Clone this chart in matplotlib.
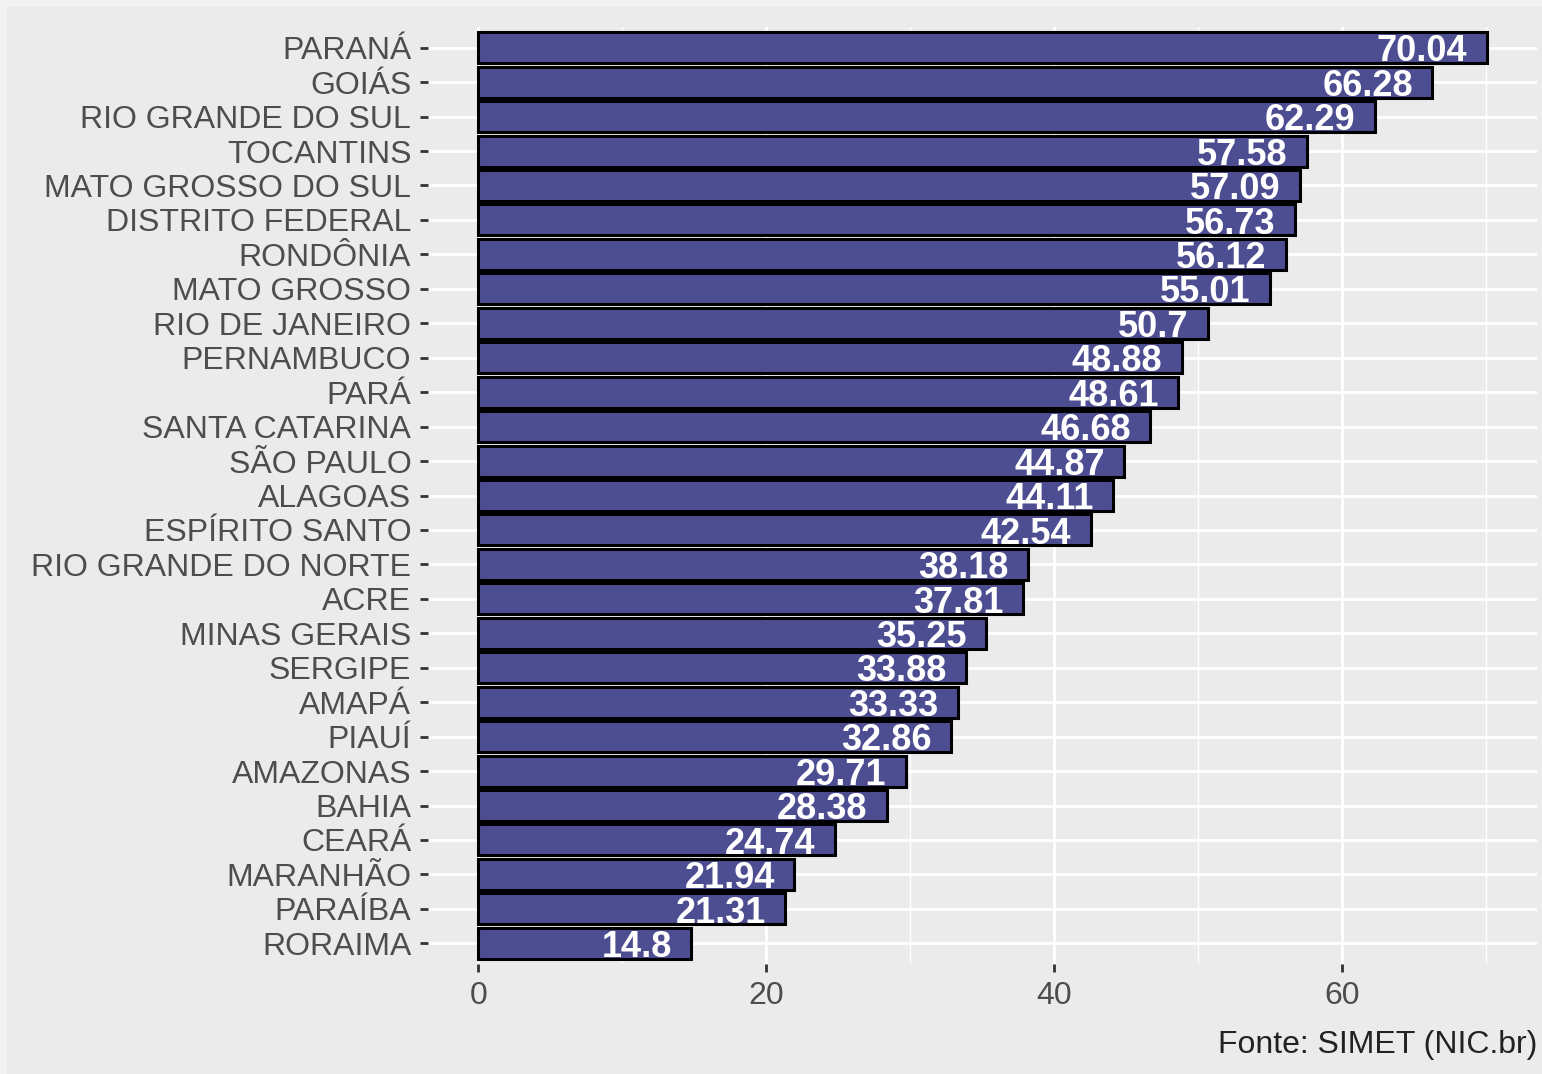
import matplotlib.pyplot as plt
from matplotlib.patches import Rectangle

# Data (top to bottom as shown)
estados = ["PARANÁ", "GOIÁS", "RIO GRANDE DO SUL", "TOCANTINS",
           "MATO GROSSO DO SUL", "DISTRITO FEDERAL", "RONDÔNIA",
           "MATO GROSSO", "RIO DE JANEIRO", "PERNAMBUCO", "PARÁ",
           "SANTA CATARINA", "SÃO PAULO", "ALAGOAS", "ESPÍRITO SANTO",
           "RIO GRANDE DO NORTE", "ACRE", "MINAS GERAIS", "SERGIPE",
           "AMAPÁ", "PIAUÍ", "AMAZONAS", "BAHIA", "CEARÁ", "MARANHÃO",
           "PARAÍBA", "RORAIMA"]
valores = [70.04, 66.28, 62.29, 57.58, 57.09, 56.73, 56.12, 55.01, 50.7,
           48.88, 48.61, 46.68, 44.87, 44.11, 42.54, 38.18, 37.81, 35.25,
           33.88, 33.33, 32.86, 29.71, 28.38, 24.74, 21.94, 21.31, 14.8]
rotulos = ["70.04", "66.28", "62.29", "57.58", "57.09", "56.73", "56.12",
           "55.01", "50.7", "48.88", "48.61", "46.68", "44.87", "44.11",
           "42.54", "38.18", "37.81", "35.25", "33.88", "33.33", "32.86",
           "29.71", "28.38", "24.74", "21.94", "21.31", "14.8"]
xticks = [0, 20, 40, 60]

plt.rcParams['font.family'] = ['Liberation Sans', 'DejaVu Sans']

bg = "#EBEBEB"
fig = plt.figure(figsize=(15.42, 10.74), dpi=100, facecolor="#F2F2F2")
# inner plot background (slightly darker than the outer frame)
fig.patches.append(Rectangle((7 / 1542, 0), 1, 1 - 7 / 1074,
                             transform=fig.transFigure, color=bg, zorder=-5))

ax = fig.add_axes([428 / 1542, 1 - 964 / 1074, 1109 / 1542, 937 / 1074])
ax.set_zorder(2)
ax.set_facecolor(bg)

n = len(estados)
ypos = list(range(n - 1, -1, -1))
ax.barh(ypos, valores, height=0.9, color="#4D4D92", edgecolor="black",
        linewidth=2.2, zorder=3)

for y, v, lab in zip(ypos, valores, rotulos):
    ax.annotate(lab, (v, y), xytext=(-14, -3),
                textcoords="offset points", ha="right", va="center",
                color="white", fontsize=26, fontweight="bold", zorder=4)

ax.set_xlim(-3.5, 73.54)
ax.set_ylim(-0.6, n - 0.4)
ax.set_xticks(xticks)
ax.set_xticks([10, 30, 50, 70], minor=True)
ax.set_yticks(ypos)
ax.set_yticklabels(estados)

ax.grid(True, which="major", color="white", linewidth=2, zorder=0)
ax.grid(True, which="minor", axis="x", color="white", linewidth=1, zorder=0)
ax.set_axisbelow(True)
for s in ax.spines.values():
    s.set_visible(False)

ax.tick_params(axis="both", which="major", colors="#333333", labelcolor="#4D4D4D",
               labelsize=23, length=6, width=2)
ax.tick_params(axis="x", which="minor", length=0)
ax.tick_params(axis="y", pad=6)
ax.tick_params(axis="x", pad=6)

fig.text(1537 / 1542, 1 - 1045 / 1074, "Fonte: SIMET (NIC.br)", ha="right",
         va="center", fontsize=23, color="#222222")

fig.savefig("out.png", dpi=100, facecolor=fig.get_facecolor())
